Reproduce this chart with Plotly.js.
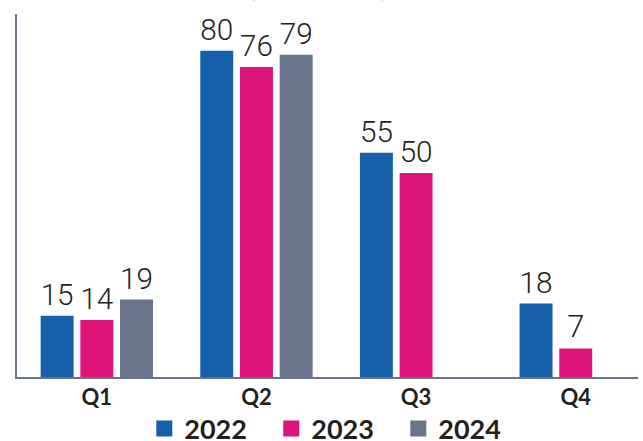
<!DOCTYPE html>
<html>
<head>
<meta charset="utf-8">
<script src="https://cdn.plot.ly/plotly-3.0.1.min.js"></script>
<style>html,body{margin:0;padding:0;background:#fff;}#chart{width:643px;height:441px;}</style>
</head>
<body>
<div id="chart"></div>
<script>
const categories = ["Q1", "Q2", "Q3", "Q4"];
const seriesNames = ["2022", "2023", "2024"];
const values2022 = [15, 80, 55, 18];
const values2023 = [14, 76, 50, 7];
const values2024 = [19, 79, null, null];
const colors = ["#1560a9", "#dc1477", "#68738c"];

const allValues = [values2022, values2023, values2024];
const labelFont = {family: "Roboto", size: 31, color: "#231f20", weight: 300};

const traces = [];
allValues.forEach((vals, i) => {
  traces.push({
    type: "bar",
    x: categories,
    y: vals,
    name: seriesNames[i],
    marker: {color: colors[i]},
    text: vals.map(v => v == null ? "" : String(v)),
    textposition: "outside",
    textfont: labelFont,
    cliponaxis: false,
    showlegend: false,
    hoverinfo: "x+y+name"
  });
});
allValues.forEach((vals, i) => {
  traces.push({
    type: "scatter",
    mode: "markers",
    x: [null],
    y: [null],
    name: seriesNames[i],
    marker: {color: colors[i], symbol: "square", size: 16},
    showlegend: true,
    hoverinfo: "skip"
  });
});

const layout = {
  width: 643,
  height: 441,
  margin: {l: 17, r: 5, t: 14, b: 64, autoexpand: false},
  paper_bgcolor: "#ffffff",
  plot_bgcolor: "#ffffff",
  barmode: "group",
  bargap: 0.254,
  bargroupgap: 0.17,
  showlegend: true,
  legend: {
    orientation: "h",
    xref: "paper", yref: "paper",
    x: 0.205, xanchor: "left",
    y: -0.143, yanchor: "middle",
    bgcolor: "rgba(0,0,0,0)",
    font: {family: "Lato", size: 27, color: "#231f20", weight: 700},
    itemwidth: 30,
    entrywidth: 82,
    entrywidthmode: "pixels",
    tracegroupgap: 0
  },
  xaxis: {
    type: "category",
    range: [-0.5, 3.39],
    showline: true,
    linecolor: "#67728c",
    linewidth: 2,
    ticks: "",
    showgrid: false,
    zeroline: false,
    automargin: false,
    tickfont: {family: "Lato", size: 22, color: "#231f20", weight: 700},
    fixedrange: true
  },
  yaxis: {
    range: [0, 89],
    showline: true,
    linecolor: "#67728c",
    linewidth: 2,
    showticklabels: false,
    ticks: "",
    showgrid: false,
    zeroline: false,
    automargin: false,
    fixedrange: true
  },
  annotations: [{
    text: "(number of deals)",
    xref: "paper", yref: "paper",
    x: 0.4855, y: 1.0,
    xanchor: "center", yanchor: "bottom",
    yshift: 10,
    showarrow: false,
    font: {family: "Lato", size: 18, color: "#1560a9"}
  }]
};

Plotly.newPlot("chart", traces, layout, {displayModeBar: false, staticPlot: true});
</script>
</body>
</html>
